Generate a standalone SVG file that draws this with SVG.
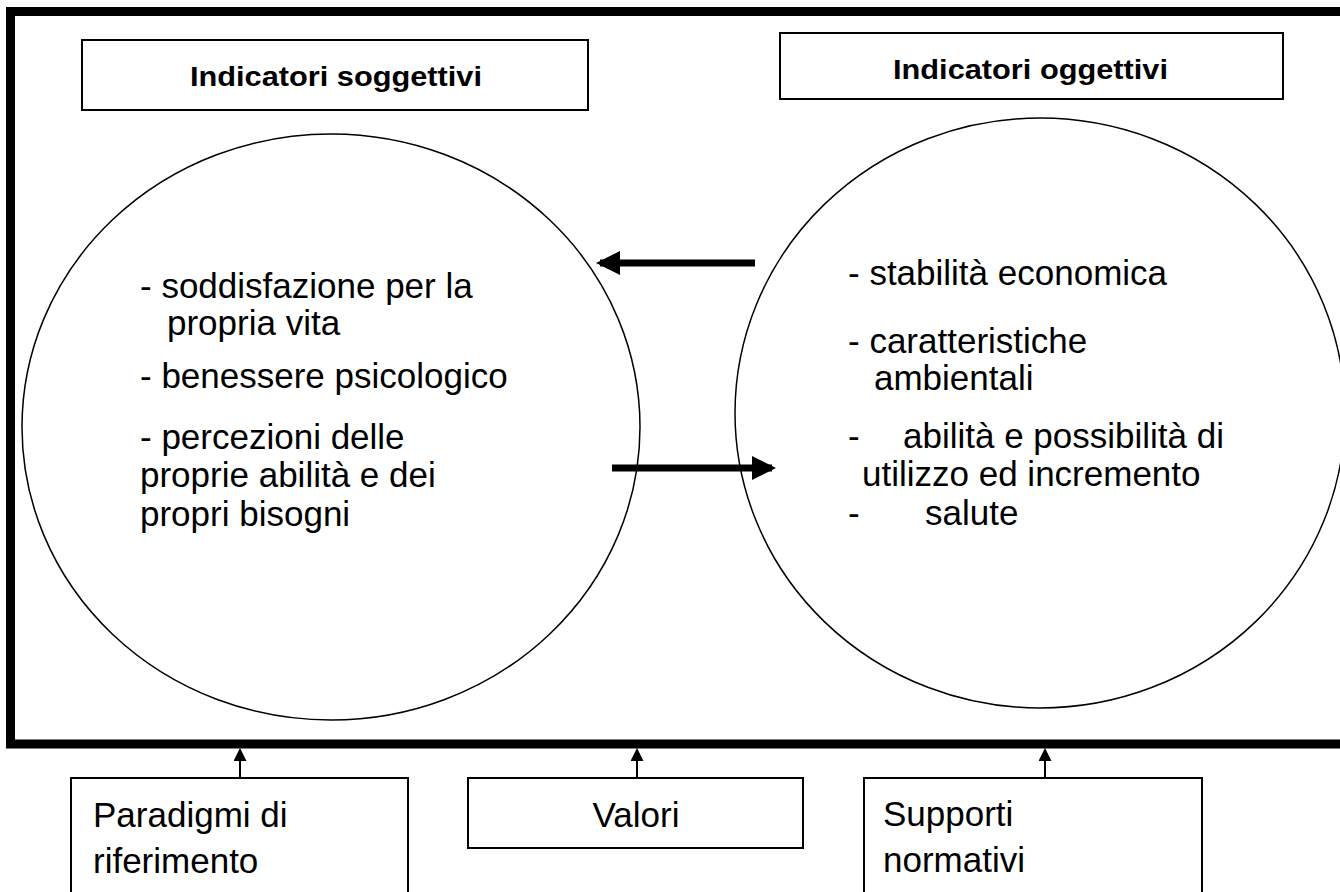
<svg xmlns="http://www.w3.org/2000/svg" width="1340" height="892" viewBox="0 0 1340 892">
<style>
.t{font-family:"Liberation Sans",Arial,sans-serif;font-size:35px;fill:#000}
.h{font-family:"Liberation Sans",Arial,sans-serif;font-size:27px;font-weight:bold;fill:#000}
.box{fill:#fff;stroke:#000;stroke-width:2}
.ell{fill:none;stroke:#000;stroke-width:1.5}
.thin{stroke:#000;stroke-width:2;fill:none}
.thick{stroke:#000;stroke-width:7;fill:none}
</style>
<defs>
<marker id="ah" markerWidth="13" markerHeight="13" refX="11" refY="6.5" orient="auto" markerUnits="userSpaceOnUse" viewBox="0 0 13 13"><path d="M0,0 L13,6.5 L0,13 z" fill="#000"/></marker>
<marker id="bh" markerWidth="24" markerHeight="24" refX="20" refY="12" orient="auto" markerUnits="userSpaceOnUse" viewBox="0 0 24 24"><path d="M0,0 L24,12 L0,24 z" fill="#000"/></marker>
</defs>
<rect id="frame" x="10.5" y="11.5" width="1345" height="732.5" fill="none" stroke="#000" stroke-width="9"/>
<g id="title-sogg"><rect class="box" x="82" y="40" width="506" height="70"/><text class="h" x="190" y="86" textLength="292" lengthAdjust="spacingAndGlyphs">Indicatori soggettivi</text></g>
<g id="title-ogg"><rect class="box" x="780" y="33" width="503" height="66"/><text class="h" x="893" y="79" textLength="275" lengthAdjust="spacingAndGlyphs">Indicatori oggettivi</text></g>
<g id="circle-sogg"><ellipse class="ell" cx="331" cy="427" rx="309" ry="293"/>
<text class="t" x="140" y="298">- soddisfazione per la</text>
<text class="t" x="167" y="335">propria vita</text>
<text class="t" x="140" y="388">- benessere psicologico</text>
<text class="t" x="140" y="449">- percezioni delle</text>
<text class="t" x="140" y="487">proprie abilità e dei</text>
<text class="t" x="140" y="526">propri bisogni</text>
</g>
<g id="circle-ogg"><ellipse class="ell" cx="1040" cy="413" rx="305" ry="295"/>
<text class="t" x="848" y="285">- stabilità economica</text>
<text class="t" x="848" y="353">- caratteristiche</text>
<text class="t" x="874" y="390">ambientali</text>
<text class="t" x="848" y="448">-</text><text class="t" x="903" y="448">abilità e possibilità di</text>
<text class="t" x="862" y="486">utilizzo ed incremento</text>
<text class="t" x="848" y="525">-</text><text class="t" x="925" y="525">salute</text>
</g>
<g id="box-paradigmi"><rect class="box" x="71" y="778" width="337" height="130"/><text class="t" x="93" y="827">Paradigmi di</text><text class="t" x="93" y="873">riferimento</text></g>
<g id="box-valori"><rect class="box" x="468" y="778" width="335" height="70"/><text class="t" x="636" y="827" text-anchor="middle">Valori</text></g>
<g id="box-supporti"><rect class="box" x="864" y="778" width="338" height="130"/><text class="t" x="883" y="826">Supporti</text><text class="t" x="883" y="872">normativi</text></g>
<g id="connectors">
<line class="thick" x1="755" y1="263" x2="600" y2="263" marker-end="url(#bh)"/>
<line class="thick" x1="612" y1="468" x2="772" y2="468" marker-end="url(#bh)"/>
<line class="thin" x1="240" y1="778" x2="240" y2="750" marker-end="url(#ah)"/>
<line class="thin" x1="637" y1="778" x2="637" y2="750" marker-end="url(#ah)"/>
<line class="thin" x1="1045" y1="778" x2="1045" y2="750" marker-end="url(#ah)"/>
</g>
</svg>
